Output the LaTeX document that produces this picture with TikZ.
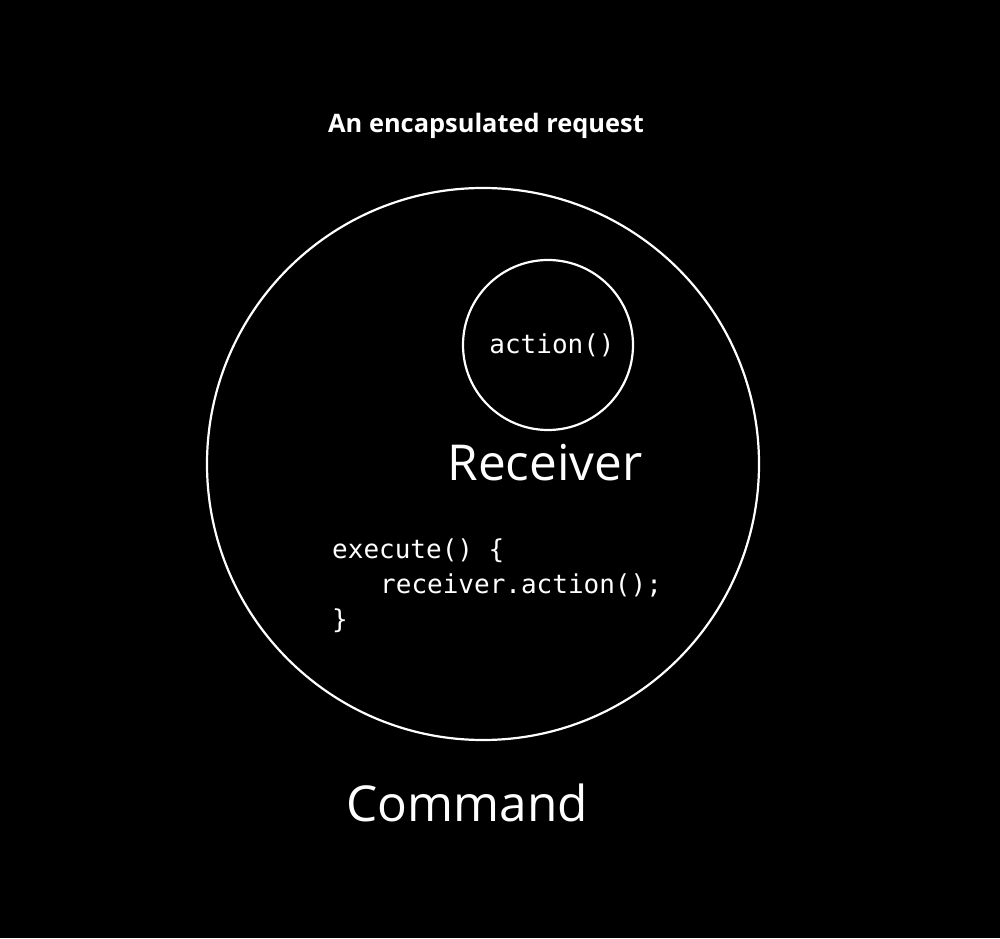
\documentclass[tikz,border=0pt]{standalone}
\usepackage{fontspec}
\setmainfont{Open Sans}
\setmonofont{DejaVu Sans Mono}
\begin{document}
\begin{tikzpicture}[x=1pt, y=1pt, line join=round, line cap=round]
	\tikzset{ring/.style={draw=white, line width=2.2pt},
		label text/.style={text=white, inner sep=0pt},
		code text/.style={text=white, inner sep=0pt, font=\fontsize{26}{35}\selectfont\ttfamily}}
	\fill[black] (0,0) rectangle (1000,938);
	\useasboundingbox (0,0) rectangle (1000,938);
	% circles
	\draw[ring] (483,474) circle (276);
	\draw[ring] (548,593) circle (85);
	% labels
	\node[label text, font=\fontsize{25.4}{30}\selectfont\bfseries] (title) at (486,812) {An encapsulated request};
	\node[code text] (action) at (552,593) {action()};
	\node[label text, font=\fontsize{49.5}{58}\selectfont] (receiver) at (545,475) {Receiver};
	\node[label text, font=\fontsize{49.5}{58}\selectfont] (command) at (467,135) {Command};
	\node[code text, anchor=base west] (exec) at (332,380) {execute() \{};
	\node[code text, anchor=base west] (call) at (380,345) {receiver.action();};
	\node[code text, anchor=base west] (close) at (332,310) {\}};
\end{tikzpicture}
\end{document}
